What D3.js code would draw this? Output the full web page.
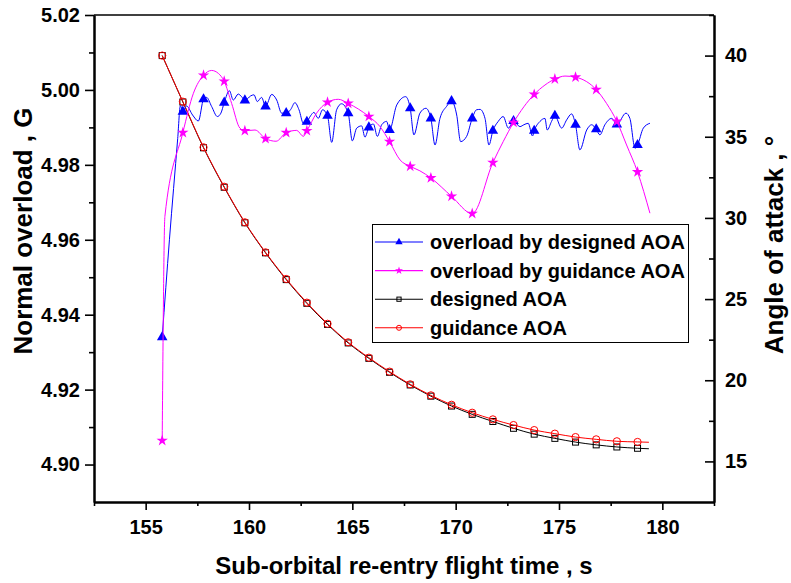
<!DOCTYPE html>
<html>
<head>
<meta charset="utf-8">
<script src="https://cdn.jsdelivr.net/npm/d3@7"></script>
<style>
  body { margin: 0; background: #fff; }
  svg { display: block; font-family: "Liberation Sans", Arial, sans-serif; font-weight: bold; }
</style>
</head>
<body>
<svg id="chart" width="791" height="583"></svg>
<script>
// times where markers are drawn (every 1 s)
const markTimes = [155.8, 156.8, 157.8, 158.8, 159.8, 160.8, 161.8, 162.8, 163.8, 164.8, 165.8, 166.8,
  167.8, 168.8, 169.8, 170.8, 171.8, 172.8, 173.8, 174.8, 175.8, 176.8, 177.8, 178.8];

const xTicks = [155, 160, 165, 170, 175, 180];
const yLeftTicks = [4.90, 4.92, 4.94, 4.96, 4.98, 5.00, 5.02];
const yRightTicks = [15, 20, 25, 30, 35, 40];

// overload by designed AOA (left axis)
const blueT = [155.8, 156.15, 156.55, 156.68, 156.8, 156.98, 157.27, 157.55, 157.8, 157.95, 158.19, 158.47,
  158.64, 158.8, 159.05, 159.24, 159.48, 159.64, 159.8, 160.08, 160.24, 160.40, 160.61, 160.8, 161.10,
  161.34, 161.58, 161.8, 162.02, 162.22, 162.42, 162.63, 162.8, 162.98, 163.14, 163.35, 163.56, 163.8,
  164.00, 164.24, 164.48, 164.8, 165.00, 165.21, 165.45, 165.61, 165.8, 166.02, 166.21, 166.42, 166.66,
  166.8, 167.15, 167.58, 167.8, 167.98, 168.27, 168.56, 168.8, 169.00, 169.24, 169.56, 169.8, 170.05,
  170.24, 170.53, 170.8, 171.01, 171.18, 171.42, 171.61, 171.8, 172.06, 172.30, 172.55, 172.8, 173.11,
  173.30, 173.51, 173.72, 173.8, 174.08, 174.32, 174.43, 174.64, 174.8, 175.13, 175.37, 175.61, 175.8,
  176.01, 176.34, 176.58, 176.8, 176.98, 177.22, 177.55, 177.8, 178.24, 178.43, 178.68, 178.8, 179.08, 179.4];
const blueV = [4.9340, 4.9600, 4.9870, 4.9958, 4.9942, 4.9957, 4.9933, 4.9917, 4.9975, 4.9980, 4.9956, 4.9929,
  4.9938, 4.9966, 4.9998, 4.9973, 4.9989, 4.9982, 4.9972, 4.9984, 4.9987, 4.9969, 4.9980, 4.9956, 4.9988,
  4.9973, 4.9938, 4.9938, 4.9948, 4.9966, 4.9947, 4.9911, 4.9915, 4.9931, 4.9940, 4.9924, 4.9947, 4.9931,
  4.9860, 4.9947, 4.9963, 4.9938, 4.9864, 4.9898, 4.9904, 4.9874, 4.9900, 4.9909, 4.9876, 4.9907, 4.9916,
  4.9893, 4.9960, 4.9982, 4.9951, 4.9880, 4.9938, 4.9951, 4.9924, 4.9853, 4.9924, 4.9956, 4.9970, 4.9933,
  4.9862, 4.9876, 4.9924, 4.9947, 4.9948, 4.9924, 4.9853, 4.9891, 4.9916, 4.9929, 4.9898, 4.9917, 4.9902,
  4.9907, 4.9911, 4.9877, 4.9891, 4.9916, 4.9924, 4.9893, 4.9916, 4.9931, 4.9898, 4.9920, 4.9936, 4.9907,
  4.9840, 4.9893, 4.9907, 4.9895, 4.9880, 4.9907, 4.9924, 4.9908, 4.9938, 4.9924, 4.9844, 4.9853, 4.9898, 4.9911];

// overload by guidance AOA (left axis)
const magT = [155.8, 155.93, 156.8, 157.31, 157.8, 158.19, 158.52, 158.8, 159.16, 159.56, 159.8, 160.29, 160.8,
  161.31, 161.8, 162.31, 162.63, 162.8, 163.27, 163.8, 164.32, 164.8, 165.8, 166.34, 166.8, 167.31, 167.8,
  168.27, 168.8, 169.8, 170.8, 171.8, 172.30, 172.8, 173.8, 174.32, 174.8, 175.29, 175.8, 176.34, 176.8,
  177.30, 177.8, 178.27, 178.8, 179.4];
const magV = [4.9064, 4.9662, 4.9886, 4.9991, 5.0039, 5.0052, 5.0044, 5.0023, 4.9964, 4.9898, 4.9891, 4.9893, 4.9870,
  4.9863, 4.9886, 4.9892, 4.9876, 4.9891, 4.9938, 4.9967, 4.9975, 4.9964, 4.9929, 4.9902, 4.9862, 4.9813, 4.9796,
  4.9784, 4.9765, 4.9716, 4.9670, 4.9806, 4.9862, 4.9913, 4.9988, 5.0013, 5.0029, 5.0037, 5.0034, 5.0022, 5.0001,
  4.9964, 4.9916, 4.9853, 4.9781, 4.9671];

// angle of attack (right axis)
const aoaT = [155.8, 156.8, 157.8, 158.8, 159.8, 160.8, 161.8, 162.8, 163.8, 164.8, 165.8, 166.8,
  167.8, 168.8, 169.8, 170.8, 171.8, 172.8, 173.8, 174.8, 175.8, 176.8, 177.8, 178.8, 179.35];
const designedAOA = [40.0, 37.14, 34.32, 31.89, 29.70, 27.85, 26.20, 24.74, 23.44, 22.30, 21.35, 20.49,
  19.71, 19.02, 18.41, 17.90, 17.46, 17.04, 16.68, 16.42, 16.19, 16.02, 15.89, 15.81, 15.78];
const guidanceAOA = [40.0, 37.16, 34.35, 31.92, 29.73, 27.88, 26.24, 24.78, 23.48, 22.34, 21.39, 20.53,
  19.75, 19.07, 18.49, 18.00, 17.59, 17.24, 16.93, 16.71, 16.50, 16.36, 16.24, 16.20, 16.18];

const legendNames = ["overload by designed AOA", "overload by guidance AOA", "designed AOA", "guidance AOA"];

const svg = d3.select("#chart");
const frame = { left: 94, right: 714, top: 15, bottom: 502 };

const x = d3.scaleLinear().domain([152.5, 182.5]).range([frame.left, frame.right]);
const yL = d3.scaleLinear().domain([4.89, 5.02]).range([frame.bottom, frame.top]);
const yR = d3.scaleLinear().domain([12.5, 42.5]).range([frame.bottom, frame.top]);

const zip = (ts, vs) => ts.map((t, i) => ({ t: t, v: vs[i] }));
const isMark = d => markTimes.some(m => Math.abs(m - d.t) < 0.01);

const series = [
  { data: zip(blueT, blueV), y: yL, color: "#0000ff", mark: "tri" },
  { data: zip(magT, magV), y: yL, color: "#ff00ff", mark: "star" },
  { data: zip(aoaT, designedAOA), y: yR, color: "#000000", mark: "square" },
  { data: zip(aoaT, guidanceAOA), y: yR, color: "#ff0000", mark: "circle" }
];

const plot = svg.append("g");

// draw a marker of given kind at (cx, cy)
function drawMark(g, kind, color, cx, cy, s) {
  if (kind === "tri") {
    g.append("path").attr("d", d3.symbol(d3.symbolTriangle, 48 * s * s)())
      .attr("transform", `translate(${cx},${cy})`).attr("fill", color);
  } else if (kind === "star") {
    g.append("path").attr("d", d3.symbol(d3.symbolStar, 40 * s * s)())
      .attr("transform", `translate(${cx},${cy})`).attr("fill", color);
  } else if (kind === "square") {
    g.append("rect").attr("x", cx - 3 * s).attr("y", cy - 3 * s)
      .attr("width", 6 * s).attr("height", 6 * s)
      .attr("fill", "none").attr("stroke", color).attr("stroke-width", 1);
  } else {
    g.append("circle").attr("cx", cx).attr("cy", cy).attr("r", 3.6 * s)
      .attr("fill", "none").attr("stroke", color).attr("stroke-width", 1);
  }
}

// AOA first (underneath), then overload lines
[series[2], series[3], series[0], series[1]].forEach(s => {
  const line = d3.line().x(d => x(d.t)).y(d => s.y(d.v)).curve(d3.curveMonotoneX);
  plot.append("path").datum(s.data)
    .attr("fill", "none").attr("stroke", s.color).attr("stroke-width", 1)
    .attr("d", line);
  s.data.filter(isMark).forEach(d => drawMark(plot, s.mark, s.color, x(d.t), s.y(d.v), 1));
});

// axes
const fmt2 = d3.format(".2f");
const styleAxis = g => {
  g.select(".domain").attr("stroke-width", 2);
  g.selectAll(".tick line").attr("stroke-width", 1.6);
  g.selectAll("text").attr("font-size", 20).attr("font-weight", "bold")
    .attr("font-family", "'Liberation Sans', Arial, sans-serif").attr("fill", "#000");
};

svg.append("g").attr("transform", `translate(0,${frame.bottom})`)
  .call(d3.axisBottom(x).tickValues(xTicks).tickSize(8).tickPadding(10).tickSizeOuter(0))
  .call(styleAxis);
svg.append("g").attr("transform", `translate(0,${frame.bottom})`)
  .call(d3.axisBottom(x).tickValues(xTicks.map(v => v - 2.5).concat([182.5])).tickSize(4).tickFormat("").tickSizeOuter(0))
  .call(styleAxis);

svg.append("g").attr("transform", `translate(${frame.left},0)`)
  .call(d3.axisLeft(yL).tickValues(yLeftTicks).tickSize(9).tickPadding(5).tickFormat(fmt2).tickSizeOuter(0))
  .call(styleAxis);
svg.append("g").attr("transform", `translate(${frame.left},0)`)
  .call(d3.axisLeft(yL).tickValues(yLeftTicks.slice(0, -1).map(v => v + 0.01)).tickSize(5).tickFormat("").tickSizeOuter(0))
  .call(styleAxis);

svg.append("g").attr("transform", `translate(${frame.right},0)`)
  .call(d3.axisRight(yR).tickValues(yRightTicks).tickSize(-9).tickPadding(11).tickSizeOuter(0))
  .call(styleAxis);
svg.append("g").attr("transform", `translate(${frame.right},0)`)
  .call(d3.axisRight(yR).tickValues(yRightTicks.map(v => v + 2.5)).tickSize(-5).tickFormat("").tickSizeOuter(0))
  .call(styleAxis);

// top frame line
svg.append("line").attr("x1", frame.left).attr("x2", frame.right)
  .attr("y1", frame.top).attr("y2", frame.top)
  .attr("stroke", "#000").attr("stroke-width", 1.6);

// axis titles
svg.append("text").attr("x", (frame.left + frame.right) / 2).attr("y", 574)
  .attr("text-anchor", "middle").attr("font-size", 24)
  .text("Sub-orbital re-entry flight time , s");
svg.append("text").attr("transform", "translate(32,231) rotate(-90)")
  .attr("text-anchor", "middle").attr("font-size", 26)
  .text("Normal overload , G");
svg.append("text").attr("transform", "translate(783,245) rotate(-90)")
  .attr("text-anchor", "middle").attr("font-size", 26)
  .text("Angle of attack , \u00b0");

// legend
const lg = svg.append("g");
lg.append("rect").attr("x", 372.5).attr("y", 224.5).attr("width", 316).attr("height", 118)
  .attr("fill", "#fff").attr("stroke", "#000").attr("stroke-width", 1);
series.forEach((s, i) => {
  const cy = 242 + i * 28.6;
  lg.append("line").attr("x1", 375).attr("x2", 423).attr("y1", cy).attr("y2", cy)
    .attr("stroke", s.color).attr("stroke-width", 1.1);
  drawMark(lg, s.mark, s.color, 399, cy, 0.7);
  lg.append("text").attr("x", 430).attr("y", cy).attr("dy", "0.35em")
    .attr("font-size", 20).text(legendNames[i]);
});
</script>
</body>
</html>
